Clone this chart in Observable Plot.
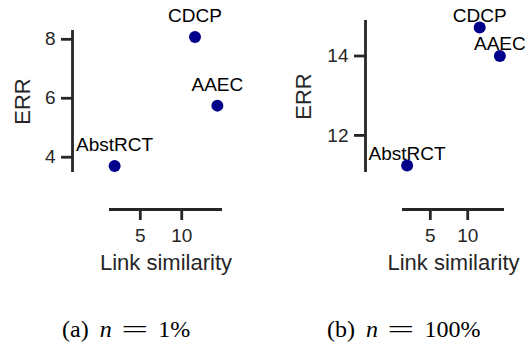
<!DOCTYPE html>
<html>
<head>
<meta charset="utf-8">
<script src="https://cdn.jsdelivr.net/npm/d3@7"></script>
<script src="https://cdn.jsdelivr.net/npm/@observablehq/plot@0.6"></script>
<style>
  html, body { margin: 0; padding: 0; background: #fff; }
  #fig { position: relative; width: 527px; height: 347px; background: #fff; overflow: hidden; }
  .panel { position: absolute; top: 0; }
  .cap { position: absolute; font-family: "Liberation Serif", "Times New Roman", serif; font-size: 24px; color: #000; white-space: nowrap; line-height: 1; }
  .cap i { font-style: italic; }
  .cap .eq { display: inline-block; transform: scaleX(2.0); margin: 0 17px 0 16px; }
</style>
</head>
<body>
<div id="fig">
  <div id="pa" class="panel" style="left:0px"></div>
  <div id="pb" class="panel" style="left:263px"></div>
  <div id="capa" class="cap" style="left:62px; top:317px"></div>
  <div id="capb" class="cap" style="left:327px; top:317px"></div>
</div>
<script>
// ---- data ----
const datasets = ["AbstRCT", "CDCP", "AAEC"];
const linkSimilarity = [1.9, 11.6, 14.3];
const errA = [3.7, 8.08, 5.75];     // n = 1%
const errB = [11.24, 14.72, 14.0];  // n = 100%
const xTicks = [5, 10];
const yTicksA = [4, 6, 8];
const yTicksB = [12, 14];
const xLabel = "Link similarity";
const yLabel = "ERR";
const captionA = ["(a)", "n", "=", "1%"];
const captionB = ["(b)", "n", "=", "100%"];

const ink = "#262626";
const dotColor = "#00008b";

function padded(values) {
  const [lo, hi] = d3.extent(values);
  const p = (hi - lo) * 0.05;
  return [lo - p, hi + p];
}

function panel({errs, yTicks, width, marginLeft, marginRight, marginTop, labelDy, yLabelDx}) {
  const rows = datasets.map((name, i) => ({name, x: linkSimilarity[i], y: errs[i]}));
  const xd = padded(linkSimilarity);
  const yd = padded(errs);
  const off = 37;
  return Plot.plot({
    width,
    height: 280,
    marginLeft,
    marginRight,
    marginTop,
    marginBottom: 108,
    x: {domain: xd},
    y: {domain: yd},
    style: {background: "transparent", overflow: "visible", fontFamily: "'Liberation Sans', Arial, sans-serif", color: ink},
    marks: [
      // offset spines
      Plot.ruleX([xd[0]], {y1: yd[0], y2: yd[1], dx: -off, stroke: ink, strokeWidth: 2.8}),
      Plot.ruleY([yd[0]], {x1: xd[0], x2: xd[1], dy: off, stroke: ink, strokeWidth: 2.8}),
      Plot.axisY({ticks: yTicks, tickFormat: d3.format("d"), tickSize: 11, tickPadding: 6, dx: -off, strokeWidth: 2.8, color: ink, fontSize: 19, label: null}),
      Plot.axisX({ticks: xTicks, tickFormat: d3.format("d"), tickSize: 11, tickPadding: 8, dy: off, strokeWidth: 2.8, color: ink, fontSize: 19, label: null}),
      Plot.text([yLabel], {frameAnchor: "left", rotate: -90, dx: yLabelDx, fontSize: 22, fill: ink, textAnchor: "middle"}),
      Plot.text([xLabel], {frameAnchor: "bottom", dy: 97, fontSize: 22, fill: ink, textAnchor: "middle"}),
      Plot.dot(rows, {x: "x", y: "y", r: 6, fill: dotColor, stroke: "none"}),
      Plot.text(rows, {x: "x", y: "y", text: "name", dy: labelDy, fontSize: 19, fill: "#000", textAnchor: "middle"})
    ]
  });
}

document.getElementById("pa").append(panel({
  errs: errA, yTicks: yTicksA, width: 263, marginLeft: 109, marginRight: 41, marginTop: 30,
  labelDy: -20.8, yLabelDx: -87
}));
document.getElementById("pb").append(panel({
  errs: errB, yTicks: yTicksB, width: 264, marginLeft: 139, marginRight: 23, marginTop: 20,
  labelDy: -12, yLabelDx: -99
}));

function caption(el, parts) {
  const a = document.createElement("span");
  a.textContent = parts[0];
  a.style.marginRight = "11px";
  const n = document.createElement("i");
  n.textContent = parts[1];
  const eq = document.createElement("span");
  eq.className = "eq";
  eq.textContent = parts[2];
  const v = document.createElement("span");
  v.textContent = parts[3];
  el.append(a, n, eq, v);
}
caption(document.getElementById("capa"), captionA);
caption(document.getElementById("capb"), captionB);
</script>
</body>
</html>
